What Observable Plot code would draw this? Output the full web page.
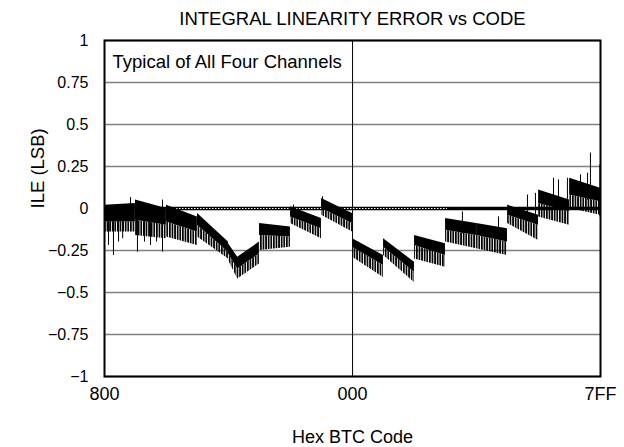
<!DOCTYPE html>
<html><head><meta charset="utf-8">
<script src="https://cdn.jsdelivr.net/npm/d3@7"></script>
<script src="https://cdn.jsdelivr.net/npm/@observablehq/plot@0.6"></script>
<style>body{margin:0;background:#fff} svg{display:block}</style>
</head><body><div id="chart"></div>
<script>
const title = "INTEGRAL LINEARITY ERROR vs CODE";
const note = "Typical of All Four Channels";
const xLabel = "Hex BTC Code";
const yLabel = "ILE (LSB)";
const xTickCodes = [0, 2048, 4095];
const xTickLabels = ["800", "000", "7FF"];
const yTickValues = [-1, -0.75, -0.5, -0.25, 0, 0.25, 0.5, 0.75, 1];
const yTickLabels = ["\u22121", "\u22120.75", "\u22120.5", "\u22120.25", "0", "0.25", "0.5", "0.75", "1"];
const centerCode = 2048;
const dottedZeroEnd = 2832;

// trace envelope (code index 0 = 800h ... 4095 = 7FFh)
const envSeg  = [0, 0, 1, 1, 2, 2, 3, 3, 4, 4, 4, 5, 5, 6, 6, 7, 7, 8, 8, 9, 9, 10, 10, 11, 11, 12, 12, 13, 13, 14, 14, 15, 15];
const envCode = [0, 255, 256, 511, 512, 767, 768, 1023, 1024, 1100, 1279, 1280, 1535, 1536, 1791, 1792, 2047, 2048, 2303, 2304, 2559, 2560, 2815, 2816, 3071, 3072, 3327, 3328, 3583, 3584, 3839, 3840, 4095];
const envTop  = [0.02, 0.03, 0.05, 0.0, 0.02, -0.05, -0.03, -0.2, -0.21, -0.29, -0.2, -0.09, -0.11, 0.01, -0.06, 0.06, -0.03, -0.18, -0.28, -0.18, -0.32, -0.16, -0.21, -0.06, -0.09, -0.09, -0.12, 0.02, -0.04, 0.11, 0.05, 0.18, 0.12];
const envCore = [-0.08, -0.08, -0.07, -0.1, -0.08, -0.14, -0.1, -0.26, -0.27, -0.36, -0.27, -0.16, -0.17, -0.05, -0.12, 0.0, -0.09, -0.23, -0.34, -0.23, -0.38, -0.22, -0.28, -0.13, -0.16, -0.16, -0.2, -0.04, -0.1, 0.03, -0.02, 0.08, 0.04];
const envTip  = [-0.14, -0.14, -0.16, -0.18, -0.17, -0.22, -0.17, -0.3, -0.31, -0.42, -0.33, -0.25, -0.23, -0.09, -0.18, -0.04, -0.14, -0.29, -0.41, -0.28, -0.44, -0.3, -0.35, -0.2, -0.24, -0.24, -0.28, -0.09, -0.19, -0.05, -0.1, 0.0, -0.04];

// isolated spikes
const spikeCode = [33, 74, 116, 150, 215, 272, 330, 380, 430, 479, 1560, 1800, 2955, 3253, 3492, 3558, 3707, 3748, 3822, 3930, 3988, 4012, 4090];
const spikeLo   = [-0.22, -0.28, -0.2, -0.18, -0.05, -0.26, -0.2, -0.22, -0.2, -0.26, -0.05, 0.0, -0.15, -0.15, -0.05, -0.05, 0.0, 0.0, 0.0, 0.05, 0.05, 0.05, -0.05];
const spikeHi   = [0.0, 0.0, 0.0, 0.0, 0.065, 0.0, 0.0, 0.0, 0.0, 0.05, 0.02, 0.07, -0.02, -0.05, 0.08, 0.09, 0.18, 0.17, 0.18, 0.2, 0.21, 0.33, 0.26];

const rows = envCode.map((c, i) => ({seg: envSeg[i], code: c, top: envTop[i], core: envCore[i], tip: envTip[i]}));
const spikes = spikeCode.map((c, i) => ({code: c, lo: spikeLo[i], hi: spikeHi[i]}));
const yFmt = new Map(yTickValues.map((v, i) => [v, yTickLabels[i]]));
const xFmt = new Map(xTickCodes.map((v, i) => [v, xTickLabels[i]]));
const font = "'Liberation Sans', Arial, Helvetica, sans-serif";

const svg = Plot.plot({
  width: 624, height: 447,
  marginLeft: 104, marginRight: 24, marginTop: 40, marginBottom: 71,
  style: {fontFamily: font, fontSize: "16px", background: "white", color: "black"},
  x: {domain: [0, 4095]},
  y: {domain: [-1, 1]},
  marks: [
    Plot.ruleY(yTickValues.filter(v => v !== 0), {stroke: "#808080", strokeWidth: 1.6}),
    Plot.ruleX([centerCode], {stroke: "black", strokeWidth: 1}),
    Plot.ruleY([0], {stroke: "black", strokeWidth: 3.5}),
    Plot.ruleY([{y: 0, a: 0, b: dottedZeroEnd}], {y: "y", x1: "a", x2: "b", stroke: "white", strokeWidth: 1, strokeDasharray: "1.5,1.5"}),
    Plot.areaY(rows, {x: "code", y1: "tip", y2: "core", z: "seg", fill: "url(#teeth)"}),
    Plot.areaY(rows, {x: "code", y1: "core", y2: "top", z: "seg", fill: "black"}),
    Plot.ruleX(spikes, {x: "code", y1: "lo", y2: "hi", stroke: "black", strokeWidth: 1}),
    Plot.frame({stroke: "black", strokeWidth: 2}),
    Plot.axisY(yTickValues, {tickSize: 0, tickPadding: 16, tickFormat: d => yFmt.get(d), label: null, fontSize: 16}),
    Plot.axisX(xTickCodes, {tickSize: 0, tickPadding: 11, tickFormat: d => xFmt.get(d), label: null, fontSize: 18}),
    Plot.text([title], {frameAnchor: "top", dy: -21, lineAnchor: "middle", fontSize: 18.5}),
    Plot.text([note], {frameAnchor: "top-left", dx: 8, dy: 22, lineAnchor: "middle", textAnchor: "start", fontSize: 18.5}),
    Plot.text([xLabel], {frameAnchor: "bottom", dy: 61, lineAnchor: "middle", fontSize: 18}),
    Plot.text([yLabel], {frameAnchor: "left", dx: -66, rotate: -90, lineAnchor: "middle", fontSize: 18.5})
  ]
});
const defs = d3.select(svg).insert("defs", ":first-child");
defs.append("pattern").attr("id", "teeth").attr("width", 2.6).attr("height", 10).attr("patternUnits", "userSpaceOnUse")
  .append("rect").attr("width", 1.7).attr("height", 10).attr("fill", "black");
document.getElementById("chart").appendChild(svg);
</script>
</body></html>
